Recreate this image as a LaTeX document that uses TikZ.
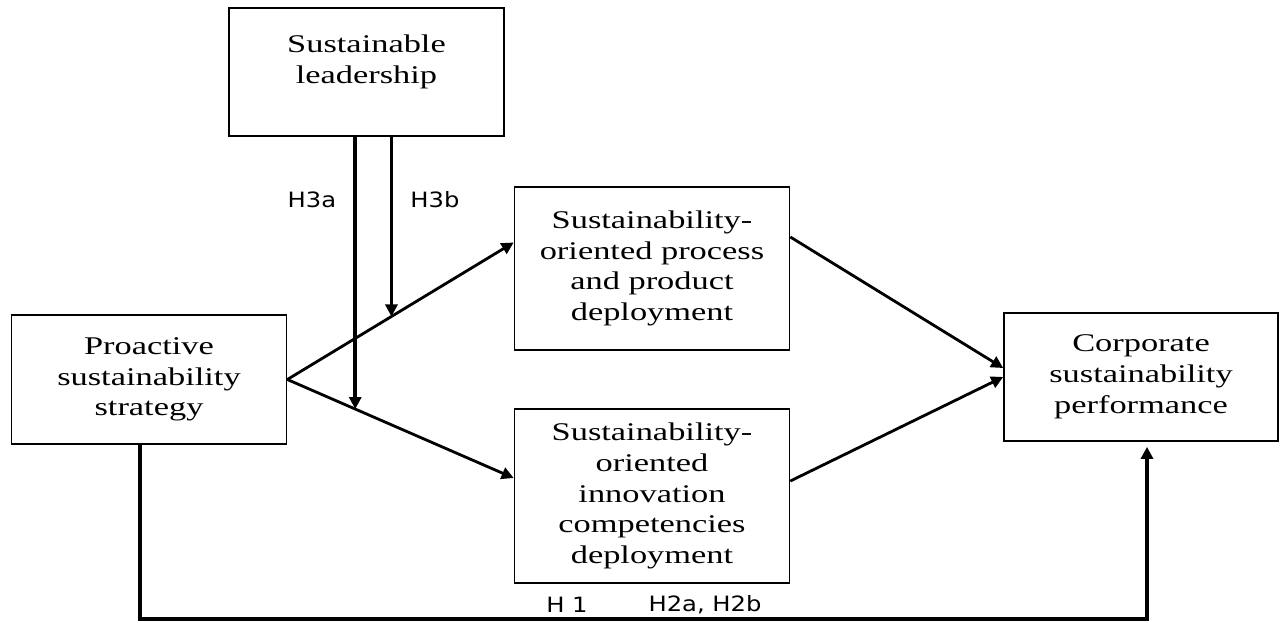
\documentclass[tikz,border=0pt]{standalone}
\usepackage{fontspec}
\setmainfont{Liberation Serif}[FakeStretch=1.35]
\newfontfamily\hypfont{DejaVu Sans}[FakeStretch=1.15]
\usetikzlibrary{arrows.meta,calc}

\tikzset{
  box/.style={draw,line width=1pt,minimum width=5.5cm,align=center,inner sep=2pt,
    font=\fontsize{14.5pt}{17.5pt}\selectfont},
  hyp/.style={font=\hypfont\fontsize{12pt}{14pt}\selectfont},
  arr/.style={line width=1.6pt,-{Triangle[length=2.4mm,width=2.4mm]}},
}

\begin{document}
\begin{tikzpicture}[x=0.02cm,y=-0.02cm]
  \useasboundingbox (0,0) rectangle (1281,622);
  % constructs
  \node[box,minimum height=2.56cm,text depth=0.5cm] (lead) at (366.5,72) {Sustainable\\leadership};
  \node[box,minimum height=2.58cm] (pro) at (149,379.5) {Proactive\\sustainability\\strategy};
  \node[box,minimum height=3.26cm] (ppd) at (652,268.5) {Sustainability-\\oriented process\\and product\\deployment};
  \node[box,minimum height=3.48cm] (icd) at (652,496) {Sustainability-\\oriented\\innovation\\competencies\\deployment};
  \node[box,minimum height=2.56cm,minimum width=5.48cm] (csp) at (1141,377) {Corporate\\sustainability\\performance};
  % hypotheses
  \node[hyp] (h3a) at (312,200) {H3a};
  \node[hyp] (h3b) at (435,200) {H3b};
  \node[hyp] (h1) at (567,605) {H 1};
  \node[hyp] (h2) at (705,605) {H2a, H2b};
  % paths
  \coordinate (ppdin) at ([yshift=0.52cm]ppd.west);
  \coordinate (icdin) at ([yshift=0.36cm]icd.west);
  \draw[arr] (pro.east) -- (ppdin);
  \draw[arr] (pro.east) -- (icdin);
  \draw[arr] ([yshift=0.63cm]ppd.east) -- ([yshift=0.18cm]csp.west);
  \draw[arr] ([yshift=0.3cm]icd.east) -- (csp.west);
  % moderation
  \coordinate (m3a) at ($(pro.east)!.3!(icdin)$);
  \coordinate (m3b) at ($(pro.east)!.46!(ppdin)$);
  \draw[arr,line width=2.2pt] (lead.south -| m3a) -- (m3a);
  \draw[arr,line width=2.2pt] (lead.south -| m3b) -- (m3b);
  % direct effect
  \coordinate (base) at (0,619);
  \coordinate (h1start) at ([xshift=-0.18cm]pro.south);
  \draw[arr,line width=2pt] (h1start) -- (h1start |- base) -| ([xshift=0.12cm,yshift=-0.1cm]csp.south);
\end{tikzpicture}
\end{document}
